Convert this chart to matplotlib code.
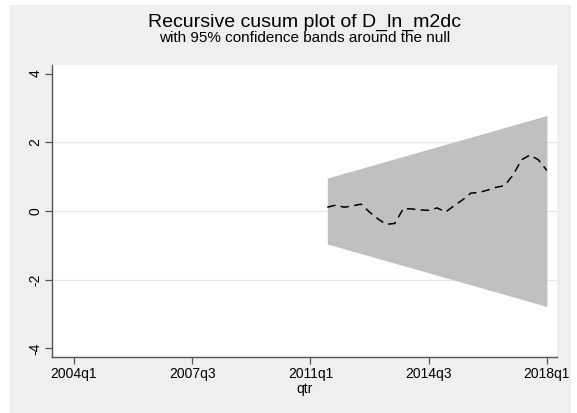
import matplotlib.pyplot as plt
from matplotlib.patches import Rectangle

plt.rcParams['font.family'] = ['Liberation Sans', 'DejaVu Sans']

# quarters are counted Stata style: 1960q1 = 0
quarters = list(range(206, 233))  # 2011q3 .. 2018q1
cusum = [0.11, 0.17, 0.11, 0.15, 0.20, -0.03, -0.23, -0.39, -0.36, 0.07,
         0.06, 0.03, 0.02, 0.09, -0.03, 0.15, 0.32, 0.52, 0.54, 0.61,
         0.69, 0.74, 1.05, 1.49, 1.63, 1.49, 1.18]
band_start = 0.96
band_end = 2.78

tick_q = [176, 190, 204, 218, 232]
tick_labels = ["2004q1", "2007q3", "2011q1", "2014q3", "2018q1"]
y_ticks = [-4, -2, 0, 2, 4]

W, H = 577, 413
fig = plt.figure(figsize=(W / 100, H / 100), dpi=100, facecolor="white")
# stata style grey graph region
fig.patches.append(Rectangle((10 / W, 0), 561 / W, 408 / H, transform=fig.transFigure,
                             facecolor="#efefef", edgecolor="none", zorder=-1))

ax = fig.add_axes([52 / W, 56 / H, 505 / W, 292 / H])
ax.set_facecolor("white")

# confidence band, straight lines from first to last quarter
q0, q1 = quarters[0], quarters[-1]
ax.fill_between([q0, q1], [-band_start, -band_end], [band_start, band_end],
                color="#c0c0c0", linewidth=0, zorder=2)
ax.plot(quarters, cusum, color="black", linestyle=(0, (5.5, 3.5)), linewidth=1.1, zorder=3)

for yv in [-2, 0, 2]:
    ax.axhline(yv, color="#e6e6e6", linewidth=0.9, zorder=1)

ax.set_xlim(173.4, 233.2)
ax.set_ylim(-4.25, 4.25)
ax.set_xticks(tick_q)
ax.set_xticklabels(tick_labels, fontsize=10)
ax.set_yticks(y_ticks)
ax.set_yticklabels([str(v) for v in y_ticks], fontsize=10, rotation=90, va="center")
ax.tick_params(color="#555555", length=5, width=0.9, pad=2)
ax.set_xlabel("qtr", fontsize=10, labelpad=1)

for side in ["top", "right"]:
    ax.spines[side].set_visible(False)
for side in ["left", "bottom"]:
    ax.spines[side].set_color("#555555")
    ax.spines[side].set_linewidth(1.0)

fig.text(305 / W, 1 - 22 / H, "Recursive cusum plot of D_ln_m2dc", ha="center", va="center", fontsize=14)
fig.text(305 / W, 1 - 38.5 / H, "with 95% confidence bands around the null", ha="center", va="center", fontsize=11)

fig.savefig("out.png", dpi=100, facecolor="white")
